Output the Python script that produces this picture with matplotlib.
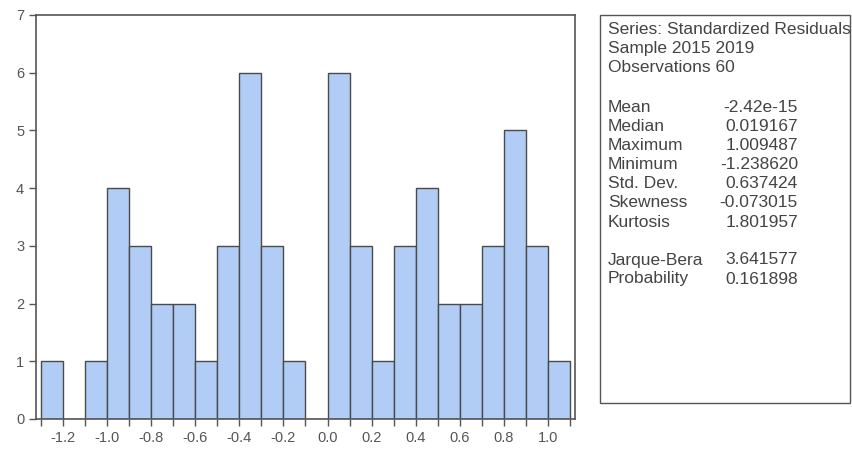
import matplotlib
matplotlib.use('Agg')
import matplotlib.pyplot as plt
from matplotlib.patches import Rectangle

# histogram of standardized residuals, bins of width 0.1
bin_lefts = [-1.3, -1.2, -1.1, -1.0, -0.9, -0.8, -0.7, -0.6, -0.5, -0.4, -0.3, -0.2,
             -0.1, 0.0, 0.1, 0.2, 0.3, 0.4, 0.5, 0.6, 0.7, 0.8, 0.9, 1.0]
counts = [1, 0, 1, 4, 3, 2, 2, 1, 3, 6, 3, 1,
          0, 6, 3, 1, 3, 4, 2, 2, 3, 5, 3, 1]
xtick_pos = [-1.3, -1.2, -1.1, -1.0, -0.9, -0.8, -0.7, -0.6, -0.5, -0.4, -0.3, -0.2,
             -0.1, 0.0, 0.1, 0.2, 0.3, 0.4, 0.5, 0.6, 0.7, 0.8, 0.9, 1.0, 1.1]
xtick_labels = ['', '-1.2', '', '-1.0', '', '-0.8', '', '-0.6', '', '-0.4', '', '-0.2',
                '', '0.0', '', '0.2', '', '0.4', '', '0.6', '', '0.8', '', '1.0', '']

header = ['Series: Standardized Residuals', 'Sample 2015 2019', 'Observations 60']
stat_names = ['Mean', 'Median', 'Maximum', 'Minimum', 'Std. Dev.', 'Skewness', 'Kurtosis']
stat_values = ['-2.42e-15', '0.019167', '1.009487', '-1.238620', '0.637424', '-0.073015', '1.801957']
test_names = ['Jarque-Bera', 'Probability']
test_values = ['3.641577', '0.161898']

plt.rcParams['font.family'] = ['Liberation Sans', 'DejaVu Sans']

W, H = 853, 454
fig = plt.figure(figsize=(W / 100, H / 100), dpi=100)
fig.patch.set_facecolor('white')

ax = fig.add_axes([36 / W, 1 - 419 / H, (575 - 36) / W, (419 - 15) / H])
ax.bar(bin_lefts, counts, width=0.1, align='edge', color='#b1cdf6',
       edgecolor='#4a4a4a', linewidth=1.0)
ax.set_xlim(-1.322, 1.122)
ax.set_ylim(0, 7)
ax.set_yticks(range(8))
ax.set_xticks(xtick_pos)
ax.set_xticklabels(xtick_labels)
ax.tick_params(axis='both', direction='out', length=5, width=1, color='#555555',
               labelcolor='#555555', labelsize=10.5)
for s in ax.spines.values():
    s.set_color('#555555')
    s.set_linewidth(1.2)

# stats box
fig.patches.append(Rectangle((600 / W, 1 - 403 / H), 250 / W, (403 - 15) / H,
                             transform=fig.transFigure, facecolor='white',
                             edgecolor='#555555', linewidth=1.0))

tx = 608 / W
vx = 798 / W
fs = 12.5
col = '#444444'
y = 30
for line in header:
    fig.text(tx, 1 - y / H, line, fontsize=fs, color=col, va='center', ha='left')
    y += 19
y = 107
for n, v in zip(stat_names, stat_values):
    fig.text(tx, 1 - y / H, n, fontsize=fs, color=col, va='center', ha='left')
    fig.text(vx, 1 - y / H, v, fontsize=fs, color=col, va='center', ha='right')
    y += 19.2
y = 260
for n, v in zip(test_names, test_values):
    fig.text(tx, 1 - y / H, n, fontsize=fs, color=col, va='center', ha='left')
    fig.text(vx, 1 - y / H, v, fontsize=fs, color=col, va='center', ha='right')
    y += 19

fig.savefig('out.png', dpi=100)
